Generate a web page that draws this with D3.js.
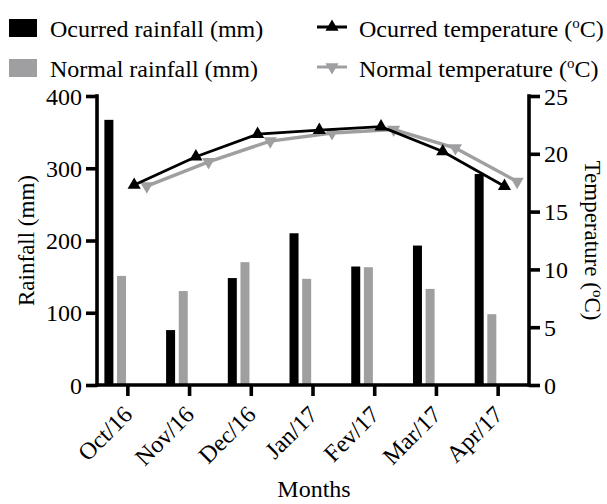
<!DOCTYPE html>
<html>
<head>
<meta charset="utf-8">
<script src="https://cdn.jsdelivr.net/npm/d3@7"></script>
<style>
  body { margin: 0; background: #fff; }
  svg { display: block; }
</style>
</head>
<body>
<svg id="chart" width="607" height="504"></svg>
<script>
const months = ["Oct/16", "Nov/16", "Dec/16", "Jan/17", "Fev/17", "Mar/17", "Apr/17"];
const ocurredRain = [367, 76, 148, 210, 164, 193, 292];
const normalRain = [151, 130, 170, 147, 163, 133, 98];
const ocurredTemp = [17.3, 19.75, 21.7, 22.05, 22.35, 20.2, 17.2];
const normalTemp = [17.2, 19.3, 21.1, 21.8, 22.1, 20.5, 17.6];
const rainTicks = [0, 100, 200, 300, 400];
const tempTicks = [0, 5, 10, 15, 20, 25];

const FONT = '"Liberation Serif", "Times New Roman", Times, serif';
const black = "#000000", gray = "#9f9fa2";
const svg = d3.select("#chart");
const pL = 97, pR = 529, pT = 96, pB = 385;

const x = d3.scaleBand().domain(months).range([pL, pR]).paddingInner(0).paddingOuter(0);
const slot = d3.scaleBand().domain(["or", "nr", "ot", "nt"]).range([0, x.bandwidth()]).paddingInner(0).paddingOuter(0.44);
const yR = d3.scaleLinear().domain([0, 400]).range([pB, pT]);
const yT = d3.scaleLinear().domain([0, 25]).range([pB, pT]);
const barW = 9;
const sx = (m, k) => x(m) + slot(k) + slot.bandwidth() / 2;

// bars
const bars = svg.append("g");
bars.selectAll(".or").data(months).join("rect").attr("class", "or")
  .attr("x", (d) => sx(d, "or") - barW / 2).attr("width", barW)
  .attr("y", (d, i) => yR(ocurredRain[i])).attr("height", (d, i) => pB - yR(ocurredRain[i]))
  .attr("fill", black);
bars.selectAll(".nr").data(months).join("rect").attr("class", "nr")
  .attr("x", (d) => sx(d, "nr") - barW / 2).attr("width", barW)
  .attr("y", (d, i) => yR(normalRain[i])).attr("height", (d, i) => pB - yR(normalRain[i]))
  .attr("fill", gray);

// lines
const tri = d3.symbol().type(d3.symbolTriangle).size(75);
function drawLine(vals, key, color, lw, flip) {
  const line = d3.line().x((d, i) => sx(months[i], key)).y((d) => yT(d));
  svg.append("path").datum(vals).attr("d", line).attr("fill", "none")
    .attr("stroke", color).attr("stroke-width", lw);
  svg.append("g").selectAll("path").data(vals).join("path")
    .attr("d", tri)
    .attr("transform", (d, i) => `translate(${sx(months[i], key)},${yT(d)}) rotate(${flip ? 180 : 0})`)
    .attr("fill", color);
}
drawLine(normalTemp, "nt", gray, 3.4, true);
drawLine(ocurredTemp, "ot", black, 2.8, false);

// axes
const fs = 24, tfs = 23;
const axL = svg.append("g").attr("transform", `translate(${pL},0)`)
  .call(d3.axisLeft(yR).tickValues(rainTicks).tickSize(11).tickPadding(4).tickFormat(d3.format("d")));
const axR = svg.append("g").attr("transform", `translate(${pR},0)`)
  .call(d3.axisRight(yT).tickValues(tempTicks).tickSize(11).tickPadding(4).tickFormat(d3.format("d")));
const axB = svg.append("g").attr("transform", `translate(0,${pB})`)
  .call(d3.axisBottom(x).tickSize(11).tickSizeOuter(0).tickFormat(""));
[axL, axR, axB].forEach((a) => {
  a.attr("font-family", null).attr("font-size", null);
  a.select(".domain").attr("stroke", black).attr("stroke-width", 3.6);
  a.selectAll(".tick line").attr("stroke", black).attr("stroke-width", 3.6);
  a.selectAll("text").style("font-family", FONT).style("font-size", fs + "px").attr("fill", black);
});
axL.select(".domain").attr("d", `M0,${pT - 1.8}V${pB + 1.8}`);
axR.select(".domain").attr("d", `M0,${pT - 1.8}V${pB + 1.8}`);
axB.select(".domain").attr("d", `M${pL},0H${pR}`);
axL.selectAll(".tick text").attr("dy", "0.34em");
axR.selectAll(".tick text").attr("dy", "0.34em");

// x tick labels rotated
svg.append("g").selectAll("text").data(months).join("text")
  .attr("transform", (d) => `translate(${x(d) + x.bandwidth() / 2 + 6},${pB + 31}) rotate(-45)`)
  .attr("text-anchor", "end")
  .style("font-family", FONT).style("font-size", fs + "px").text((d) => d);

// axis titles
svg.append("text").attr("transform", `translate(34,${(pT + pB) / 2}) rotate(-90)`)
  .attr("text-anchor", "middle").style("font-family", FONT).style("font-size", tfs + "px").text("Rainfall (mm)");
const tt = svg.append("text").attr("transform", `translate(585,${(pT + pB) / 2}) rotate(90)`)
  .attr("text-anchor", "middle").style("font-family", FONT).style("font-size", tfs + "px");
tt.append("tspan").text("Temperature (");
tt.append("tspan").attr("dy", -8).style("font-size", "15px").text("o");
tt.append("tspan").attr("dy", 8).text("C)");
svg.append("text").attr("x", 314).attr("y", 497).attr("text-anchor", "middle")
  .style("font-family", FONT).style("font-size", fs + "px").text("Months");

// legend
const legend = [
  { label: "Ocurred rainfall (mm)", color: black, type: "bar", row: 0 },
  { label: "Normal rainfall (mm)", color: gray, type: "bar", row: 1 },
  { label: "Ocurred temperature (", color: black, type: "line", row: 0, flip: false },
  { label: "Normal temperature (", color: gray, type: "line", row: 1, flip: true }
];
const lg = svg.append("g");
legend.forEach((L) => {
  const base = 37 + L.row * 40;
  const g = lg.append("g");
  let tx;
  if (L.type === "bar") {
    g.append("rect").attr("x", 9).attr("y", base - 18).attr("width", 28).attr("height", 18).attr("fill", L.color);
    tx = 50;
  } else {
    const ym = base - 10;
    g.append("line").attr("x1", 317).attr("x2", 347).attr("y1", ym).attr("y2", ym)
      .attr("stroke", L.color).attr("stroke-width", 3);
    g.append("path").attr("d", tri).attr("transform", `translate(332,${ym}) rotate(${L.flip ? 180 : 0})`).attr("fill", L.color);
    tx = 359;
  }
  const t = g.append("text").attr("x", tx).attr("y", base)
    .style("font-family", FONT).style("font-size", fs + "px");
  t.append("tspan").text(L.label);
  if (L.type === "line") {
    t.append("tspan").attr("dy", -9).style("font-size", "15px").text("o");
    t.append("tspan").attr("dy", 9).text("C)");
  }
});
</script>
</body>
</html>
